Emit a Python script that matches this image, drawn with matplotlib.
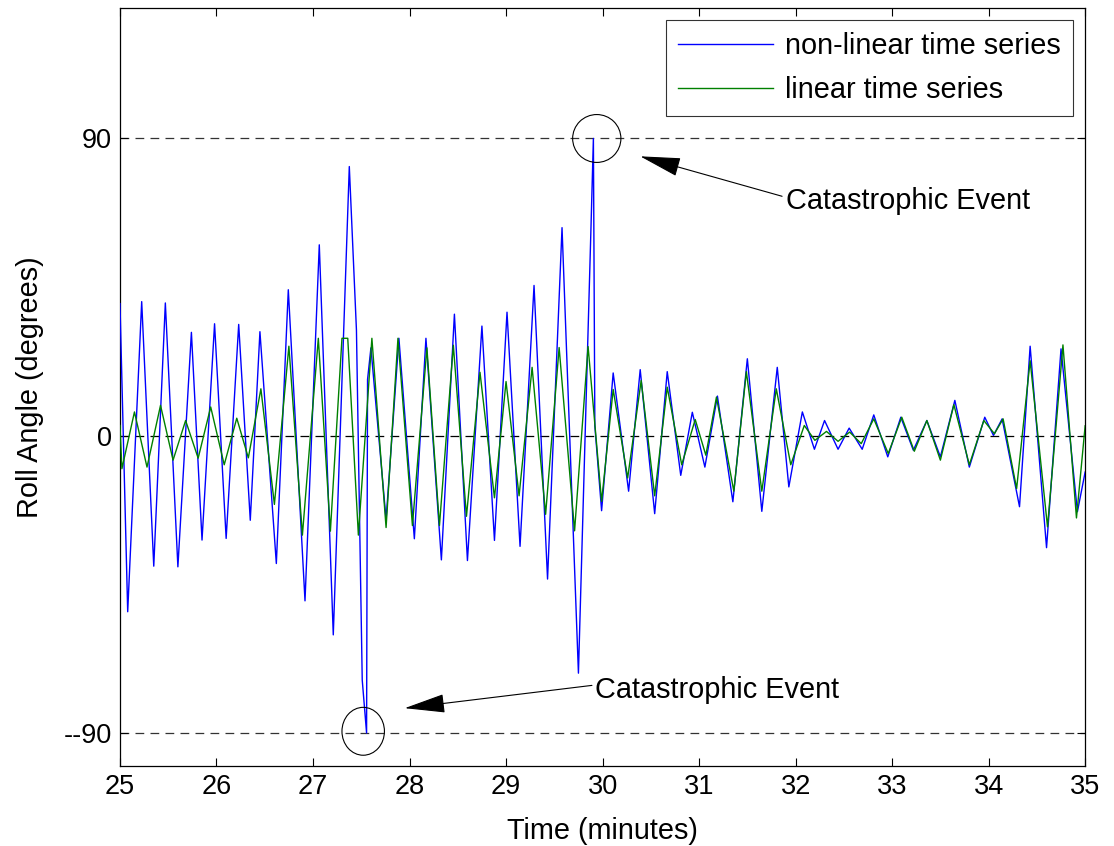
import matplotlib
matplotlib.use("Agg")
import matplotlib.pyplot as plt
from matplotlib.patches import Ellipse

plt.rcParams['font.family'] = ['Liberation Sans', 'DejaVu Sans']

# ---- data (extrema) ----
blue_t = [25.00, 25.08, 25.225, 25.35, 25.47, 25.60, 25.74, 25.85, 25.98, 26.10,
          26.23, 26.35, 26.45, 26.62, 26.744, 26.917, 27.065, 27.21, 27.376, 27.45,
          27.51, 27.555, 27.565, 27.60, 27.757, 27.89, 28.05, 28.17, 28.33, 28.465,
          28.60, 28.75, 28.88, 29.01, 29.145, 29.29, 29.43, 29.58, 29.75, 29.88,
          29.905, 29.92, 29.99, 30.11, 30.27, 30.39, 30.54, 30.67, 30.81, 30.93,
          31.06, 31.19, 31.35, 31.50, 31.65, 31.81, 31.93, 32.07, 32.195, 32.30,
          32.44, 32.555, 32.69, 32.81, 32.955, 33.09, 33.22, 33.36, 33.50, 33.65,
          33.80, 33.96, 34.05, 34.14, 34.32, 34.43, 34.60, 34.75, 34.92, 35.00]
blue_v = [40, -53.3, 40.6, -39.5, 40.2, -39.7, 31.3, -31.6, 33.9, -31.1,
          33.7, -25.6, 31.5, -38.7, 44.2, -50.0, 57.8, -60.3, 81.5, 32,
          -74, -90, 17, 26.6, -25.4, 29.5, -31.2, 29.5, -37.6, 36.8,
          -37.8, 33.2, -31.7, 37.4, -33.5, 45.5, -43.4, 63.0, -71.9, 63,
          90, 3, -22.7, 19, -16.8, 20.0, -23.6, 19.4, -12.0, 7.1,
          -9.5, 12.0, -20.0, 23.3, -22.9, 20.7, -15.5, 7.2, -4.1, 4.6,
          -4.1, 2.3, -4.1, 6.3, -6.4, 5.6, -4.4, 4.6, -6.4, 10.7,
          -9.5, 5.6, 0.1, 5.1, -21.5, 27.1, -33.9, 26.3, -23.0, -11]

green_t = [25.00, 25.02, 25.15, 25.28, 25.42, 25.55, 25.68, 25.81, 25.94, 26.08,
           26.21, 26.33, 26.46, 26.60, 26.75, 26.89, 27.055, 27.18, 27.30, 27.36,
           27.47, 27.61, 27.757, 27.88, 28.03, 28.18, 28.31, 28.454, 28.59, 28.73,
           28.88, 29.00, 29.135, 29.27, 29.41, 29.55, 29.71, 29.85, 29.99, 30.11,
           30.26, 30.40, 30.54, 30.67, 30.82, 30.96, 31.07, 31.18, 31.36, 31.49,
           31.65, 31.80, 31.95, 32.09, 32.20, 32.32, 32.44, 32.56, 32.68, 32.81,
           32.96, 33.10, 33.23, 33.36, 33.50, 33.64, 33.80, 33.95, 34.06, 34.15,
           34.29, 34.43, 34.61, 34.77, 34.91, 35.00]
green_v = [3.1, -10, 7.2, -9.5, 9.2, -7.4, 4.6, -6.8, 8.7, -8.8,
           5.3, -6.7, 14.2, -20.8, 27.1, -30.1, 29.5, -28.9, 29.5, 29.5,
           -30.1, 29.5, -27.8, 29.5, -27.2, 26.6, -27.2, 27.4, -24.4, 19.2,
           -18.8, 16.4, -18.2, 20.7, -23.8, 26.7, -28.8, 27.0, -19.9, 14.0,
           -12.8, 16.7, -18.2, 14.7, -8.8, 4.9, -5.9, 11.7, -16.8, 19.4,
           -16.8, 14.2, -8.8, 3.1, -1.4, 1.3, -1.7, 1.1, -2.4, 5.1,
           -5.4, 5.6, -4.7, 4.6, -7.4, 9.4, -8.8, 4.6, 0.6, 5.1,
           -16.0, 22.7, -27.6, 27.5, -24.9, 3]

assert len(blue_t) == len(blue_v)
assert len(green_t) == len(green_v)

series_labels = ["non-linear time series", "linear time series"]
x_ticks = [25, 26, 27, 28, 29, 30, 31, 32, 33, 34, 35]
y_ticks = [-90, 0, 90]
y_ticklabels = ["--90", "0", "90"]
ref_levels = [90, 0, -90]
event_text = "Catastrophic Event"

FS = 20.8

# ---- figure ----
fig = plt.figure(figsize=(11.14, 8.46), dpi=100)
ax = fig.add_axes([0.1077, 0.0946, 0.8664, 0.8959])

for lvl in ref_levels:
    ax.axhline(lvl, color='#333333' if lvl else 'black', lw=0.9,
               ls=(0, (7, 5)), zorder=1)

ax.plot(blue_t, blue_v, color='#0000ff', lw=1.0, label=series_labels[0], zorder=3)
ax.plot(green_t, green_v, color='#008000', lw=1.0, label=series_labels[1], zorder=4)

ax.set_xlim(25, 35)
ax.set_ylim(-100, 129.5)
ax.set_xticks(x_ticks)
ax.set_yticks(y_ticks)
ax.set_yticklabels(y_ticklabels)
ax.tick_params(direction='in', top=True, right=True, length=6, width=0.8,
               labelsize=19.5, pad=6)
for s in ax.spines.values():
    s.set_linewidth(0.9)

ax.set_xlabel("Time (minutes)", fontsize=FS, labelpad=12)
ax.set_ylabel("Roll Angle (degrees)", fontsize=FS, labelpad=14)

leg = ax.legend(loc='upper right', fontsize=FS, frameon=True, fancybox=False,
                edgecolor='black', handlelength=3.3, borderpad=0.42,
                labelspacing=0.55, handletextpad=0.42, borderaxespad=0,
                bbox_to_anchor=(0.9876, 0.9842))
leg.get_frame().set_linewidth(0.8)

# circles
ax.add_patch(Ellipse((29.94, 90), 0.50, 14.5, fill=False, ec='black', lw=0.8, zorder=5))
ax.add_patch(Ellipse((27.52, -89.5), 0.44, 14.5, fill=False, ec='black', lw=0.8, zorder=5))

# annotations
arrow_kw = dict(arrowstyle='-|>,head_length=1.3,head_width=0.3', color='black',
                lw=0.8, mutation_scale=20, shrinkA=0, shrinkB=0)
ax.annotate("", xy=(30.39, 84.6), xytext=(31.86, 72.5), arrowprops=arrow_kw)
ax.text(31.90, 71.0, event_text, fontsize=FS, va='center', ha='left')
ax.annotate("", xy=(27.95, -82.5), xytext=(29.89, -75.6), arrowprops=arrow_kw)
ax.text(29.92, -77.0, event_text, fontsize=FS, va='center', ha='left')

fig.savefig("out.png", dpi=100)
